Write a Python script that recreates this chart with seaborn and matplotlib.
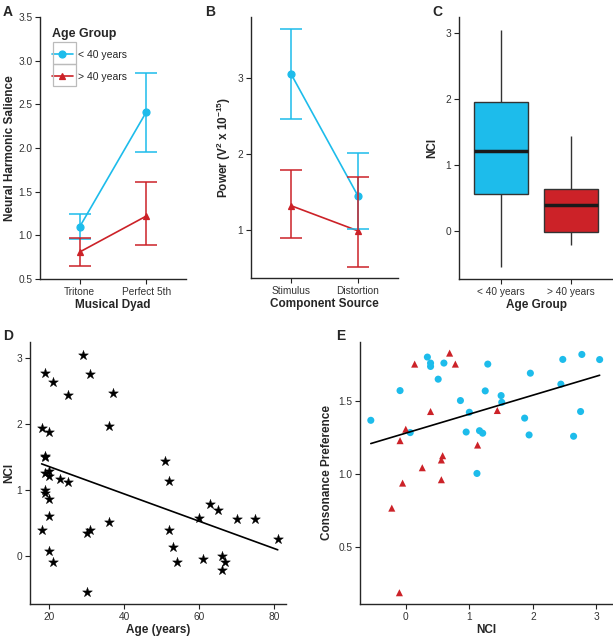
import numpy as np
import pandas as pd
import matplotlib
matplotlib.use("Agg")
import matplotlib.pyplot as plt
from matplotlib.patches import Rectangle
import seaborn as sns

CYAN = "#1DBCEB"
RED = "#CC2228"
groups = ["< 40 years", "> 40 years"]

# panel A: neural harmonic salience (mean, lower, upper)
dyads = ["Tritone", "Perfect 5th"]
salience_young = [1.10, 2.41]
salience_young_lo = [0.96, 1.95]
salience_young_hi = [1.25, 2.86]
salience_old = [0.81, 1.22]
salience_old_lo = [0.65, 0.89]
salience_old_hi = [0.97, 1.61]

# panel B: power by component source
sources = ["Stimulus", "Distortion"]
power_young = [3.05, 1.45]
power_young_lo = [2.46, 1.02]
power_young_hi = [3.64, 2.01]
power_old = [1.32, 0.99]
power_old_lo = [0.90, 0.51]
power_old_hi = [1.79, 1.70]

# panels C-E: per subject
age = [29, 19, 31, 21, 25, 37, 18, 36, 20, 19, 19, 19, 20, 20, 23, 25, 19, 19,
       20, 20, 18, 36, 30, 31, 20, 21, 30,
       51, 52, 52, 53, 54, 60, 63, 65, 70, 75, 81, 61, 66, 67, 66]
nci = [3.05, 2.77, 2.75, 2.64, 2.44, 2.47, 1.94, 1.96, 1.87, 1.50, 1.51, 1.25,
       1.21, 1.29, 1.16, 1.12, 1.00, 0.95, 0.86, 0.60, 0.39, 0.51, 0.34, 0.39,
       0.07, -0.09, -0.55,
       1.44, 1.13, 0.39, 0.14, -0.10, 0.58, 0.78, 0.69, 0.56, 0.56, 0.26, -0.05,
       0.00, -0.09, -0.22]
pref = [1.78, 1.815, 1.425, 1.256, 1.612, 1.781, 1.265, 1.687, 1.38, 1.534,
        1.488, 1.566, 1.277, 1.749, 1.294, 1.002, 1.42, 1.285, 1.50, 1.756,
        1.756, 1.646, 1.797, 1.733, 1.281, 1.568, 1.365,
        1.432, 1.196, 1.425, 1.749, 0.187, 1.123, 1.749, 1.824, 1.094, 0.959,
        1.041, 0.936, 1.304, 1.226, 0.765]

sns.set_style("ticks")
plt.rcParams["font.family"] = ["Liberation Sans", "DejaVu Sans"]
plt.rcParams["mathtext.default"] = "regular"
plt.rcParams["axes.linewidth"] = 1.0
plt.rcParams["xtick.major.size"] = 3.5
plt.rcParams["ytick.major.size"] = 3.5
plt.rcParams["xtick.major.pad"] = 2.5
plt.rcParams["ytick.major.pad"] = 2
plt.rcParams["xtick.color"] = "#222222"
plt.rcParams["ytick.color"] = "#222222"
plt.rcParams["xtick.labelcolor"] = "#333333"
plt.rcParams["ytick.labelcolor"] = "#333333"
plt.rcParams["xtick.labelsize"] = 7.3
plt.rcParams["ytick.labelsize"] = 7.3

W, H = 613, 639
fig = plt.figure(figsize=(W / 100, H / 100), dpi=100)


def make_ax(x0, y0, x1, y1):
    return fig.add_axes([x0 / W, 1 - y1 / H, (x1 - x0) / W, (y1 - y0) / H])


lab = dict(fontsize=8.5, fontweight="bold")


def interaction_panel(ax, cats, means, los, his):
    df = pd.DataFrame({
        "cat": cats * 2,
        "val": means[0] + means[1],
        "group": [groups[0]] * 2 + [groups[1]] * 2,
    })
    sns.pointplot(data=df, x="cat", y="val", hue="group", order=cats,
                  hue_order=groups, palette=[CYAN, RED], markers=["o", "^"],
                  errorbar=None, markersize=5, linewidth=1.2, ax=ax)
    for m, lo, hi, c in zip(means, los, his, [CYAN, RED]):
        m, lo, hi = np.array(m), np.array(lo), np.array(hi)
        ax.errorbar([0, 1], m, yerr=[m - lo, hi - m], fmt="none", ecolor=c,
                    elinewidth=1.1, capsize=8, capthick=1.1)


# ---- A
axA = make_ax(40, 17, 186, 279)
interaction_panel(axA, dyads, [salience_young, salience_old],
                  [salience_young_lo, salience_old_lo],
                  [salience_young_hi, salience_old_hi])
axA.set_xlim(-0.6, 1.6)
axA.set_ylim(0.5, 3.5)
axA.set_yticks(np.arange(0.5, 3.6, 0.5))
axA.set_yticklabels([f"{v:.1f}" for v in np.arange(0.5, 3.6, 0.5)])
axA.set_xlabel("Musical Dyad", labelpad=1.5, **lab)
axA.set_ylabel("Neural Harmonic Salience", labelpad=1.5, **lab)
h, l = axA.get_legend_handles_labels()
leg = axA.legend(h, l, title="Age Group", loc="upper left",
                 bbox_to_anchor=(52 / W, 1 - 28 / H),
                 bbox_transform=fig.transFigure, frameon=False, fontsize=7.5,
                 handlelength=2.0, handletextpad=0.45, borderaxespad=0,
                 borderpad=0, labelspacing=1.15)
leg.get_title().set_fontweight("bold")
leg.get_title().set_fontsize(9)
leg._legend_box.align = "left"
leg._legend_box.sep = 7
for y0 in (42, 64):
    fig.patches.append(Rectangle((53 / W, 1 - (y0 + 22) / H), 23 / W, 22 / H,
                                 transform=fig.transFigure, fill=False,
                                 edgecolor="#bbbbbb", linewidth=0.9))

# ---- B
axB = make_ax(251, 17, 398, 278)
interaction_panel(axB, sources, [power_young, power_old],
                  [power_young_lo, power_old_lo],
                  [power_young_hi, power_old_hi])
axB.get_legend().remove()
axB.set_xlim(-0.6, 1.6)
axB.set_ylim(0.37, 3.8)
axB.set_yticks([1, 2, 3])
axB.set_xlabel("Component Source", labelpad=1.5, **lab)
axB.set_ylabel(r"Power (V$^2$ x 10$^{-15}$)", labelpad=3, **lab)

# ---- subject table
subj = pd.DataFrame({"age": age, "nci": nci, "pref": pref})
subj["group"] = np.where(subj["age"] < 40, groups[0], groups[1])

# ---- C
axC = make_ax(459, 17, 613, 279)
sns.boxplot(data=subj, x="group", y="nci", order=groups, hue="group",
            hue_order=groups, palette=[CYAN, RED], width=0.77, linecolor="#333333",
            linewidth=1.0, showcaps=False, whis=1.5, saturation=1, legend=False,
            medianprops={"color": "#1a1a1a", "linewidth": 2.5}, ax=axC)
axC.set_xlim(-0.6, 1.6)
axC.set_ylim(-0.73, 3.24)
axC.set_yticks([0, 1, 2, 3])
axC.set_xlabel("Age Group", labelpad=1.5, **lab)
axC.set_ylabel("NCI", labelpad=5, **lab)

# ---- D
axD = make_ax(30, 342, 286, 604)
sns.scatterplot(data=subj, x="age", y="nci", marker="*", s=55, color="black",
                edgecolor="black", linewidth=0.3, ax=axD)
sns.regplot(data=subj, x="age", y="nci", scatter=False, ci=None, truncate=True,
            line_kws={"color": "black", "linewidth": 1.2}, ax=axD)
axD.set_xlim(14.9, 83.2)
axD.set_ylim(-0.73, 3.24)
axD.set_xticks([20, 40, 60, 80])
axD.set_yticks([0, 1, 2, 3])
axD.set_xlabel("Age (years)", labelpad=1.5, **lab)
axD.set_ylabel("NCI", labelpad=1, **lab)

# ---- E
axE = make_ax(360, 342, 613, 604)
sns.scatterplot(data=subj, x="nci", y="pref", hue="group", style="group",
                hue_order=groups, style_order=groups, palette=[CYAN, RED],
                markers=["o", "^"], s=26, linewidth=0, legend=False, ax=axE)
sns.regplot(data=subj, x="nci", y="pref", scatter=False, ci=None, truncate=True,
            line_kws={"color": "black", "linewidth": 1.2}, ax=axE)
axE.set_xlim(-0.72, 3.26)
axE.set_ylim(0.11, 1.90)
axE.set_xticks([0, 1, 2, 3])
axE.set_yticks([0.5, 1.0, 1.5])
axE.set_yticklabels(["0.5", "1.0", "1.5"])
axE.set_xlabel("NCI", labelpad=1.5, **lab)
axE.set_ylabel("Consonance Preference", labelpad=4, **lab)

for ax in [axA, axB, axC, axD, axE]:
    sns.despine(ax=ax)

for letter, x, y in [("A", 3, 12), ("B", 205, 12), ("C", 432, 12),
                     ("D", 3, 336), ("E", 336, 336)]:
    fig.text(x / W, 1 - y / H, letter, fontsize=10, fontweight="bold",
             va="center", ha="left")

fig.savefig("out.png", dpi=100)
